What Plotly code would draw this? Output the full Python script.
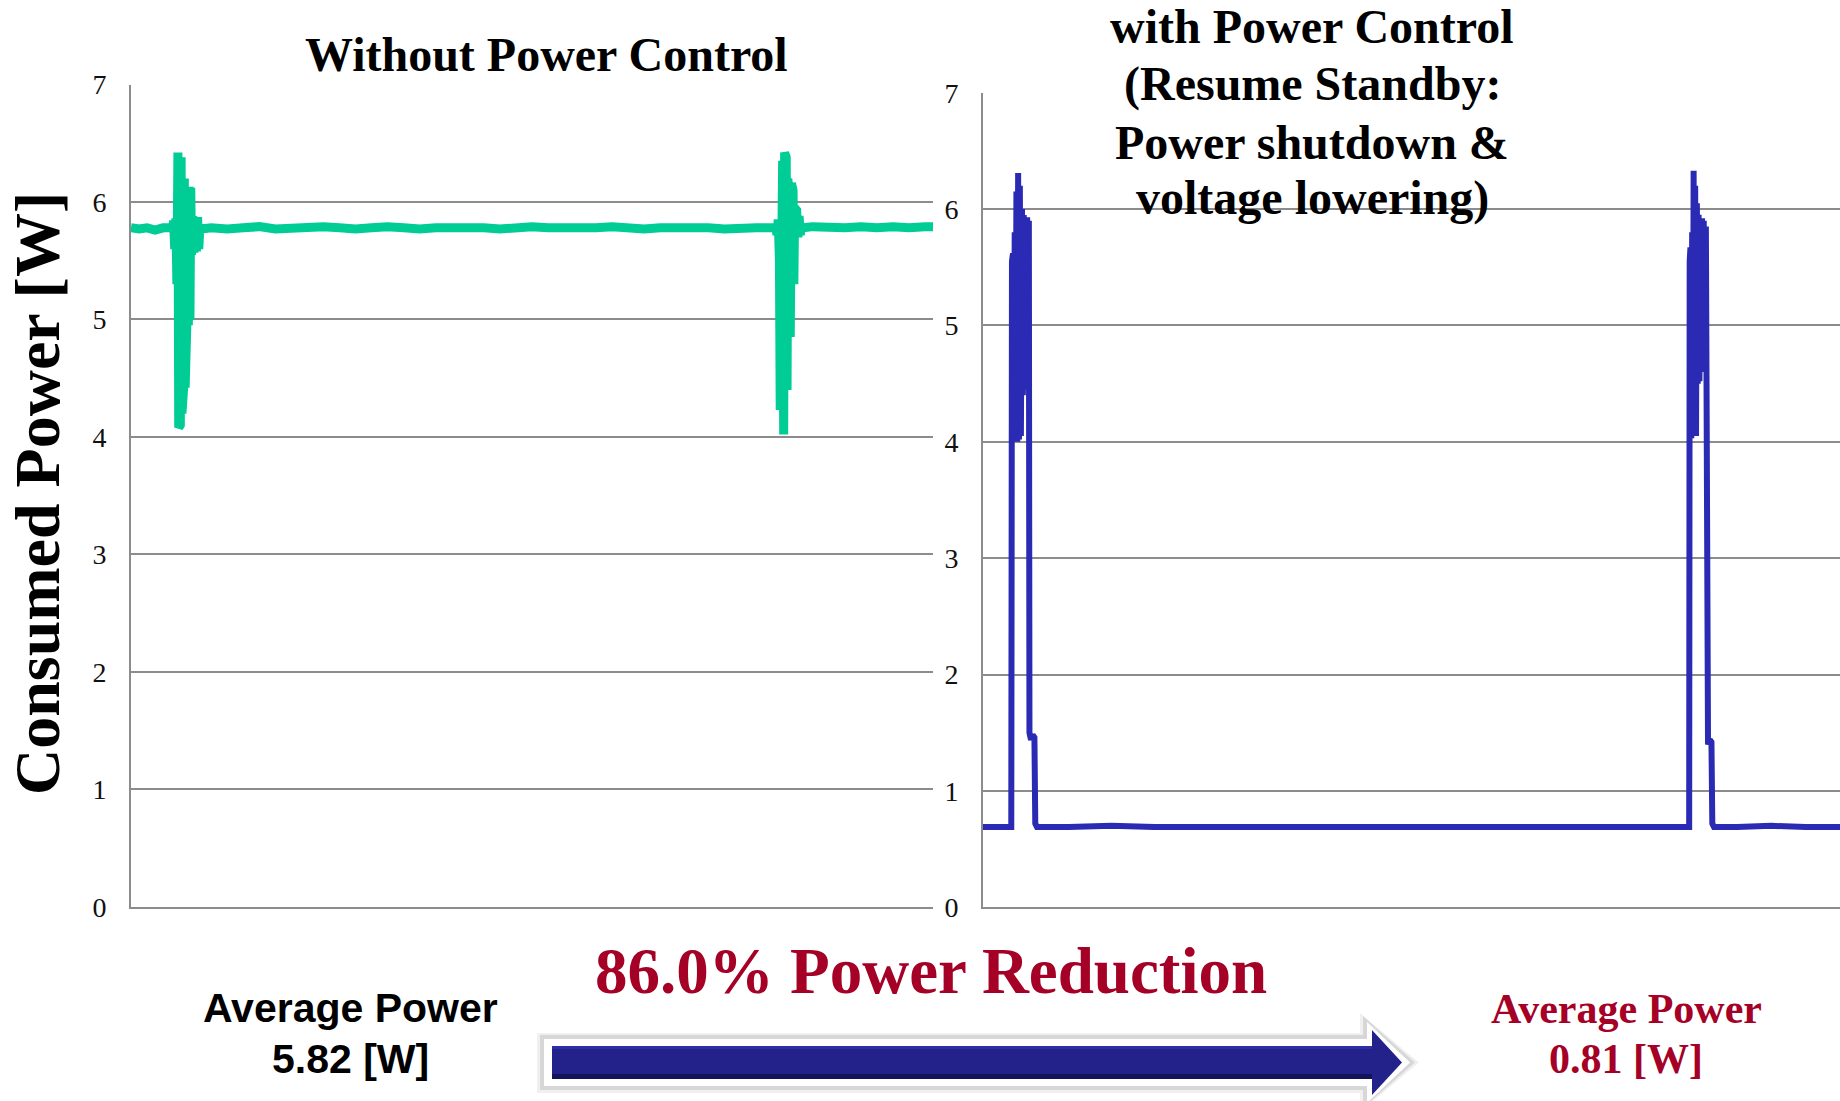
import plotly.graph_objects as go

# ---------------------------------------------------------------------------
# Measured consumed power traces (time in arbitrary sample units, power in W)
# ---------------------------------------------------------------------------
left_time = [
    0, 1, 2, 3, 4, 5.2,
    5.31, 5.45, 5.6, 5.72, 5.85, 5.95, 6.05, 6.15, 6.25, 6.35, 6.45, 6.55,
    6.65, 6.75, 6.85, 6.95, 7.05, 7.15, 7.25, 7.35, 7.45, 7.55, 7.7, 7.85,
    8.0, 8.15, 8.3, 8.45, 8.6, 8.75,
    10, 12, 14, 16, 18, 20, 22, 24, 26, 28, 30, 32, 34, 36, 38, 40, 42, 44,
    46, 48, 50, 52, 54, 56, 58, 60, 62, 64, 66, 68, 70, 72, 74, 76, 78, 80.4,
    80.55, 80.7, 80.85, 80.95, 81.05, 81.15, 81.25, 81.38, 81.5, 81.6, 81.7,
    81.8, 81.9, 82.0, 82.1, 82.2, 82.35, 82.45, 82.55, 82.65, 82.75, 82.85,
    83.0, 83.15, 83.3, 83.45, 83.6, 83.75,
    85, 87, 89, 91, 93, 95, 97, 99, 100,
]
left_power = [
    5.78, 5.77, 5.78, 5.76, 5.78, 5.78,
    5.84, 5.60, 5.86, 5.30, 6.42, 4.08, 6.40, 4.10, 6.38, 4.20, 6.30, 4.40,
    6.20, 4.42, 6.00, 4.93, 6.10, 4.95, 6.13, 5.00, 6.12, 5.55, 5.88, 5.57,
    5.87, 5.58, 5.87, 5.60, 5.80, 5.77,
    5.78, 5.77, 5.78, 5.79, 5.77, 5.78, 5.78, 5.79, 5.78, 5.77, 5.78, 5.79,
    5.78, 5.77, 5.78, 5.78, 5.79, 5.78, 5.77, 5.78, 5.79, 5.78, 5.78, 5.77,
    5.78, 5.79, 5.78, 5.77, 5.78, 5.78, 5.79, 5.78, 5.77, 5.78, 5.78, 5.78,
    5.72, 5.85, 5.50, 4.23, 6.20, 4.25, 6.35, 4.02, 6.42, 4.30, 6.38,
    4.40, 6.20, 4.42, 6.00, 4.85, 6.16, 4.90, 6.10, 5.30, 5.95, 5.60,
    5.93, 5.70, 5.88, 5.72, 5.80, 5.78,
    5.79, 5.78, 5.78, 5.79, 5.78, 5.79, 5.78, 5.79, 5.79,
]

right_time = [
    0, 1.5, 3.3,
    3.38, 3.5, 3.6, 3.7, 3.8, 3.9, 4.0, 4.1, 4.2, 4.3, 4.42, 4.55, 4.65,
    4.75, 4.85, 4.95, 5.05, 5.15, 5.25, 5.35, 5.42, 5.6, 5.8, 6.0, 6.1, 6.3,
    10, 15, 20, 25, 30, 35, 40, 45, 50, 55, 60, 65, 70, 75, 80, 82.4,
    82.46, 82.55, 82.65, 82.75, 82.85, 82.92, 83.0, 83.1, 83.2, 83.3, 83.4,
    83.5, 83.6, 83.7, 83.8, 83.9, 84.0, 84.1, 84.2, 84.35, 84.45, 84.6, 84.8,
    85.0, 85.1, 85.3,
    88, 92, 96, 100,
]
right_power = [
    0.69, 0.69, 0.69,
    5.55, 5.62, 4.00, 5.80, 4.05, 6.15, 4.00, 6.31, 4.02, 6.20, 4.05, 6.00, 4.40,
    5.95, 4.45, 5.92, 4.60, 5.93, 4.90, 5.90, 1.50, 1.44, 1.48, 1.46, 0.72, 0.69,
    0.69, 0.70, 0.69, 0.69, 0.70, 0.69, 0.69, 0.70, 0.69, 0.69, 0.70, 0.69, 0.69, 0.70, 0.69, 0.69,
    5.55, 5.67, 4.03, 5.80, 4.05, 6.33, 4.10, 6.20, 4.05, 6.05, 4.50,
    5.95, 4.52, 5.90, 4.60, 5.92, 4.70, 5.90, 4.90, 5.85, 1.44, 1.40, 1.44,
    1.42, 0.72, 0.69,
    0.69, 0.70, 0.69, 0.69,
]

y_ticks = [0, 1, 2, 3, 4, 5, 6, 7]

avg_without = 5.82
avg_with = 0.81
reduction_pct = 86.0

W, H = 1840, 1101


def px(x):
    return x / W


def py(y):
    return 1 - y / H


GRID = "#8c8c8c"
RED = "#A50026"
SERIF = "Liberation Serif"
SANS = "Liberation Sans"

fig = go.Figure()
fig.add_trace(go.Scatter(
    x=left_time, y=left_power, mode="lines",
    line=dict(color="#00CC96", width=9),
    xaxis="x", yaxis="y", showlegend=False, hoverinfo="skip",
))
fig.add_trace(go.Scatter(
    x=right_time, y=right_power, mode="lines",
    line=dict(color="#2A2AB4", width=6),
    xaxis="x2", yaxis="y2", showlegend=False, hoverinfo="skip",
))

xaxis_common = dict(
    range=[0, 100], showgrid=False, zeroline=False, showticklabels=False,
    showline=True, linecolor=GRID, linewidth=2, ticks="", fixedrange=True,
    automargin=False,
)
yaxis_common = dict(
    range=[0, 7], tickvals=y_ticks, showgrid=True, gridcolor=GRID, gridwidth=2,
    zeroline=False, showline=True, linecolor=GRID, linewidth=2, ticks="",
    tickfont=dict(family=SERIF, size=28, color="#111111"),
    ticklabelstandoff=17, fixedrange=True, automargin=False,
)

fig.update_layout(
    width=W, height=H,
    margin=dict(l=0, r=0, t=0, b=0, pad=0, autoexpand=False),
    paper_bgcolor="white", plot_bgcolor="white",
    xaxis=dict(domain=[px(131), px(933)], anchor="y", **xaxis_common),
    yaxis=dict(domain=[py(906.8), py(84.5)], anchor="x", **yaxis_common),
    xaxis2=dict(domain=[px(983), 1.0], anchor="y2", **xaxis_common),
    yaxis2=dict(domain=[py(907.3), py(92.7)], anchor="x2", **yaxis_common),
)

annotations = []


def label(text, x, y, size, color="black", family=SERIF, angle=0):
    annotations.append(dict(
        text=text, x=px(x), y=py(y), xref="paper", yref="paper",
        xanchor="center", yanchor="middle", showarrow=False, textangle=angle,
        font=dict(family=family, size=size, color=color, weight="bold"),
    ))


label("Consumed Power [W]", 38, 494, 64, angle=-90)
label("Without Power Control", 546, 55, 48)
label("with Power Control", 1312, 26, 48)
label("(Resume Standby:", 1312, 84, 48)
label("Power shutdown &", 1312, 142, 48)
label("voltage lowering)", 1312, 198, 48)
label(f"{reduction_pct:.1f}% Power Reduction", 931, 971, 65, color=RED)
label("Average Power", 350, 1008, 41, family=SANS)
label(f"{avg_without:.2f} [W]", 350, 1059, 41, family=SANS)
label("Average Power", 1626, 1009, 42, color=RED)
label(f"{avg_with:.2f} [W]", 1626, 1059, 42, color=RED)

fig.update_layout(annotations=annotations)


# Block arrow between the two averages: soft shadow, white rim, navy body
def arrow(x0, top, bottom, head_x, head_top, head_bottom, tip_x, mid=1062.5):
    pts = [(x0, top), (head_x, top), (head_x, head_top), (tip_x, mid),
           (head_x, head_bottom), (head_x, bottom), (x0, bottom)]
    parts = [f"M {px(pts[0][0])} {py(pts[0][1])}"]
    parts += [f"L {px(a)} {py(b)}" for a, b in pts[1:]]
    return " ".join(parts) + " Z"


layers = [
    (arrow(537, 1033, 1093, 1360, 1013, 1112, 1419), "rgba(0,0,0,0.06)"),
    (arrow(540, 1035, 1090, 1363, 1016, 1108, 1415), "rgba(0,0,0,0.10)"),
    (arrow(544, 1039, 1086, 1367, 1022, 1103, 1410), "white"),
    (arrow(552, 1046, 1079, 1372, 1030, 1095, 1402), "#22228A"),
]
shapes = [dict(type="path", path=p, xref="paper", yref="paper",
               line=dict(width=0), fillcolor=c, layer="above") for p, c in layers]
shapes += [
    dict(type="rect", xref="paper", yref="paper",
         x0=px(552), x1=px(1372), y0=py(1079), y1=py(1074),
         line=dict(width=0), fillcolor="#14145A", layer="above"),
    dict(type="rect", xref="paper", yref="paper",
         x0=px(552), x1=px(1372), y0=py(1049), y1=py(1046),
         line=dict(width=0), fillcolor="#2E2EA6", layer="above"),
]
fig.update_layout(shapes=shapes)

fig.write_html("out.html")
